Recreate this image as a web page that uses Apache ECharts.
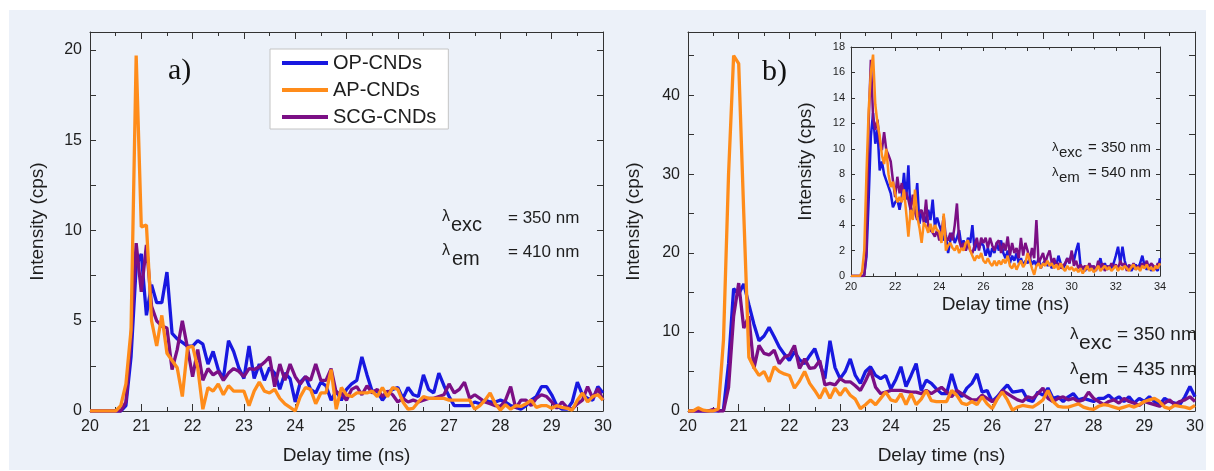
<!DOCTYPE html>
<html><head><meta charset="utf-8">
<script src="https://cdn.jsdelivr.net/npm/echarts@6/dist/echarts.min.js"></script>
<style>html,body{margin:0;padding:0;background:#fff}#c{width:1214px;height:471px}</style>
</head><body><div id="c"></div><script>
const SERIES_NAMES = ['OP-CNDs', 'AP-CNDs', 'SCG-CNDs'];
const COLORS = ['#1818e0', '#ff8c1a', '#7b0f85'];
const T_START = 20, T_STEP = 0.1;
const MAIN_X_TICKS = [20, 30, 1];
const INSET_X_TICKS = [20, 34, 2];

// Panel a) delay time 20.0 .. 30.0 ns, step 0.1 ns
const A_OP = [
 0,0,0,0,0,0,0,0.3,3.0,8.0,
 8.7,5.3,7.0,6.0,6.0,7.7,4.3,4.0,3.8,3.6,
 3.6,3.9,3.7,2.6,3.3,2.3,1.8,3.9,3.3,2.4,
 1.8,3.6,1.8,2.6,1.7,2.4,2.1,1.2,2.1,1.8,
 0.5,1.6,1.9,1.2,1.0,1.6,1.4,0.6,1.1,0.6,
 1.2,1.5,1.7,3.0,2.0,1.1,1.1,0.6,1.0,1.2,
 1.3,0.7,1.3,0.9,0.8,2.0,1.2,1.0,2.1,1.4,
 0.8,0.3,0.3,0.3,0.3,0.5,0.4,0.6,0.5,0.5,
 0.6,0.5,0.3,0.2,0.1,0.3,0.6,0.8,1.35,1.35,
 0.9,0.3,0.1,0.1,0.5,1.6,0.9,0.7,0.6,1.35,
 1.0];
const A_AP = [
 0,0,0,0,0,0,0.3,1.5,4.5,19.7,
 10.2,10.3,5.0,3.6,5.3,3.2,2.8,2.4,0.8,3.5,
 3.6,2.4,0.1,1.3,1.1,1.5,0.9,1.4,1.1,1.1,
 1.1,0.3,1.1,1.6,1.1,1.0,1.2,0.7,0.4,0.2,
 0.0,0.8,1.3,1.2,0.4,1.0,1.0,2.3,0.1,1.3,
 0.9,0.8,1.0,1.0,1.0,1.1,0.8,1.3,0.8,1.3,
 1.2,0.5,0.1,0.15,0.5,0.8,0.7,0.7,0.7,0.7,
 0.6,0.6,0.6,0.6,0.6,0.1,0.3,0.6,1.0,0.4,
 0.05,0.35,0.1,0.3,0.25,0.4,0.6,0.2,0.3,0.3,
 0.15,0.3,0.2,0.15,0.05,0.6,1.0,0.5,0.8,0.9,
 0.6];
const A_SCG = [
 0,0,0,0,0,0,0,0.5,4.0,9.3,
 6.6,9.2,5.8,5.0,4.7,4.6,2.3,3.4,5.0,3.5,
 1.9,3.4,1.7,2.35,2.0,2.2,1.7,2.1,2.35,2.2,
 1.9,2.35,2.3,2.45,2.7,3.0,1.35,2.6,1.7,2.6,
 1.9,1.5,1.9,1.7,2.6,1.7,1.7,2.35,1.0,1.0,
 0.6,1.2,1.35,0.9,1.4,1.0,1.2,0.8,1.1,0.9,
 0.5,0.7,0.5,0.6,0.5,0.6,0.7,0.7,0.8,0.9,
 1.5,1.0,1.2,1.6,0.7,0.9,0.7,0.5,0.4,0.3,
 0.25,0.6,1.35,0.15,0.6,0.6,0.3,0.7,0.9,0.8,
 0.5,0.15,0.5,0.2,0.1,0.4,0.6,1.35,0.7,1.25,
 0.6];

// Panel b) delay time 20.0 .. 30.0 ns, step 0.1 ns
const B_OP = [
 0,0,0,0,0,0,0,0.2,6.0,15.5,
 14.8,16.1,13.5,11.0,8.9,9.5,10.6,9.4,8.1,7.2,
 6.4,7.5,6.5,6.0,7.0,7.9,6.0,4.1,8.9,5.5,
 4.1,5.0,6.6,4.5,3.5,5.0,5.6,4.5,4.1,4.5,
 2.8,4.0,5.6,3.1,4.5,6.0,2.6,3.9,3.5,2.8,
 2.2,2.2,4.7,2.6,1.8,2.9,3.5,4.7,2.4,2.6,
 1.2,1.8,2.6,3.3,2.4,2.5,2.6,1.4,1.2,2.4,
 2.0,2.9,1.6,1.8,1.2,1.8,2.2,1.4,1.6,1.4,
 1.2,1.6,1.6,2.0,1.4,1.8,1.2,1.8,1.0,1.6,
 1.2,1.8,1.2,0.8,1.6,1.2,1.0,0.8,1.8,3.1,
 1.8];
const B_AP = [
 0,0,0.4,0.1,0,0,0.3,9.0,30.0,45.0,
 44.0,25.0,6.8,5.5,4.5,5.0,3.7,5.6,5.0,4.7,
 4.5,2.9,3.8,5.0,3.5,2.6,1.6,2.9,1.6,2.9,
 2.0,2.9,2.0,1.5,0.3,0.8,1.4,0.8,1.6,2.4,
 1.4,1.2,2.2,0.8,2.2,0.8,1.5,2.6,1.3,1.2,
 1.2,1.2,2.6,2.0,1.0,0.8,1.2,0.8,1.8,0.9,
 0.3,1.5,2.4,1.4,0.1,0.5,0.7,0.6,0.5,0.9,
 1.4,2.6,1.2,0.6,0.5,0.5,0.7,0.9,0.5,0.3,
 0.2,0.6,0.8,0.7,0.5,0.3,0.5,0.7,0.5,0.8,
 1.2,1.4,1.6,1.2,0.5,0.3,0.7,0.6,0.5,0.3,
 0.7];
const B_SCG = [
 0,0,0,0,0,0.2,0,0,3.0,12.0,
 16.2,10.5,12.0,5.4,8.3,7.3,7.1,7.7,6.0,6.8,
 7.1,8.3,5.4,6.6,5.4,5.5,6.4,3.3,3.5,3.3,
 4.1,3.7,3.7,3.2,2.6,3.8,5.2,3.0,2.2,2.4,
 2.6,2.6,2.6,2.5,2.4,2.4,2.2,2.6,2.2,2.6,
 3.0,2.4,1.8,2.6,2.2,1.8,1.4,1.4,2.0,1.6,
 1.2,1.6,2.6,2.2,1.8,1.4,1.2,1.8,1.6,2.2,
 2.9,1.6,1.2,1.6,1.8,1.4,1.6,1.2,1.4,2.4,
 1.6,1.2,0.8,1.2,1.4,1.0,1.6,1.2,1.0,0.7,
 1.2,1.0,0.8,0.6,1.0,1.4,0.8,1.2,1.4,1.8,
 1.2];

// Inset (lambda_em = 540 nm), delay time 20.0 .. 34.0 ns, step 0.1 ns
const IN_OP = [
 0,0,0,0,0,0,0.1,1.5,6.0,11.0,
 12.8,10.4,11.5,8.3,9.0,8.0,7.5,7.0,6.5,5.4,
 5.8,6.0,5.2,6.2,8.1,6.0,8.7,4.7,5.2,5.5,
 7.3,4.1,5.0,4.8,4.2,5.2,4.4,6.0,3.9,4.6,
 4.0,3.5,2.8,3.2,1.8,2.8,3.4,2.6,3.0,3.6,
 2.4,2.8,2.0,3.0,2.6,4.0,2.0,2.6,2.2,2.6,
 2.4,1.6,2.2,1.5,2.2,1.8,2.6,2.0,2.8,1.8,
 1.4,2.0,1.0,1.6,1.2,1.8,1.0,1.4,0.8,1.2,
 1.0,1.4,0.9,1.2,0.8,1.4,0.6,1.0,1.2,0.8,
 1.0,0.6,1.2,0.8,1.6,1.0,0.6,0.9,1.4,1.0,
 1.8,1.2,2.0,2.6,0.8,0.6,0.4,0.8,0.5,0.8,
 0.4,0.6,0.8,1.4,0.6,1.0,0.5,0.8,0.6,1.0,
 1.6,2.3,1.0,2.3,1.2,0.6,0.8,0.4,0.7,0.9,
 0.6,1.0,1.6,0.8,0.5,0.9,0.4,0.8,0.6,0.4,
 1.4];
const IN_AP = [
 0,0,0,0,0,0.3,2.0,8.0,13.0,16.0,
 17.4,13.5,12.0,11.0,9.5,8.8,10.0,8.0,7.0,7.4,
 6.5,5.8,6.2,5.8,6.8,5.0,3.1,5.2,4.4,6.8,
 4.7,3.8,2.6,4.2,3.9,3.4,4.1,3.4,4.0,3.6,
 3.5,2.6,4.9,2.0,2.4,2.6,2.2,2.0,2.4,1.8,
 2.2,2.0,2.6,2.8,2.0,1.6,1.2,1.6,1.4,1.8,
 1.2,1.0,1.4,1.0,0.8,1.2,0.8,1.2,0.9,1.3,
 1.0,1.6,0.8,0.6,1.0,0.5,0.9,1.2,0.7,1.0,
 1.8,1.2,0.6,0.1,0.8,1.0,0.6,1.0,0.8,1.2,
 0.8,1.0,0.6,0.9,0.5,1.0,0.6,0.4,0.8,0.5,
 0.7,0.4,0.6,0.3,0.6,0.2,0.5,0.8,0.4,0.6,
 0.3,0.5,0.8,0.4,0.6,0.8,0.5,0.7,0.4,0.6,
 0.8,0.4,0.7,0.5,0.8,0.6,0.4,0.7,0.9,0.5,
 0.7,0.4,0.8,0.6,0.9,0.5,0.7,0.4,0.8,0.6,
 1.0];
const IN_SCG = [
 0,0,0,0,0,0,0,2.0,12.0,17.0,
 12.5,11.5,12.3,10.5,9.9,11.3,9.9,9.5,9.0,7.5,
 6.2,7.8,6.5,7.3,6.0,6.6,6.0,5.2,6.4,5.0,
 4.4,5.0,5.2,4.2,6.0,3.9,3.6,3.4,3.1,3.6,
 2.8,3.4,4.7,3.0,2.8,3.4,2.8,4.0,5.7,2.8,
 2.2,2.6,2.0,2.6,2.0,1.8,2.4,3.0,2.0,3.0,
 2.6,3.0,2.2,3.0,2.4,2.0,2.6,2.8,1.8,2.6,
 2.0,3.1,1.6,2.6,1.8,2.2,1.4,3.0,1.6,2.6,
 2.0,1.2,2.2,1.4,4.4,1.0,1.4,1.8,1.0,1.6,
 2.0,1.0,1.4,0.8,1.0,0.6,0.8,1.0,1.4,1.0,
 2.0,0.8,1.2,0.6,0.9,0.6,0.8,0.5,1.0,0.6,
 0.8,0.4,1.2,0.6,1.0,0.4,0.8,0.6,1.0,0.7,
 0.9,0.5,1.2,0.8,1.0,0.4,0.9,0.6,1.0,0.5,
 0.8,0.6,1.0,0.7,1.2,0.6,1.0,0.8,0.5,1.0,
 0.8];

const FONT = '"Liberation Sans", Arial, sans-serif';
const AXC = '#333';
const TXC = '#1e1e1e';

function pairs(vals) {
  return vals.map((v, i) => [+(T_START + i * T_STEP).toFixed(2), v]);
}

function xAxis(grid, pos, ticks, opt) {
  return {
    gridIndex: grid, type: 'value', position: pos,
    min: ticks[0], max: ticks[1], interval: ticks[2],
    axisLine: {show: true, onZero: false, lineStyle: {color: AXC, width: 1}},
    axisTick: {show: true, inside: true, length: opt.tick, lineStyle: {color: AXC}},
    minorTick: {show: true, splitNumber: 2, length: opt.minor, lineStyle: {color: AXC}},
    splitLine: {show: false}, minorSplitLine: {show: false},
    axisLabel: {show: pos === 'bottom', fontSize: opt.fs, color: TXC, margin: opt.margin, fontFamily: FONT},
    name: pos === 'bottom' ? 'Delay time (ns)' : '',
    nameLocation: 'middle', nameGap: opt.nameGap,
    nameTextStyle: {fontSize: 19, color: TXC, fontFamily: FONT}
  };
}
function yAxis(grid, pos, min, max, interval, labelStep, opt) {
  return {
    gridIndex: grid, type: 'value', position: pos,
    min: min, max: max, interval: interval,
    axisLine: {show: true, onZero: false, lineStyle: {color: AXC, width: 1}},
    axisTick: {show: true, inside: true, length: opt.tick, lineStyle: {color: AXC}},
    splitLine: {show: false},
    axisLabel: {show: pos === 'left', fontSize: opt.fs, color: TXC, margin: opt.margin, fontFamily: FONT,
      formatter: v => (Math.abs(v / labelStep - Math.round(v / labelStep)) < 1e-6 ? String(v) : '')},
    name: pos === 'left' ? 'Intensity (cps)' : '',
    nameLocation: 'middle', nameGap: opt.nameGap,
    nameTextStyle: {fontSize: 19, color: TXC, fontFamily: FONT}
  };
}

const mainX = {tick: 7, minor: 4, fs: 16, margin: 8, nameGap: 35};
const inX = {tick: 4, minor: 2.5, fs: 11, margin: 5, nameGap: 19};

// axisIdx: 0 = panel a, 2 = panel b, 4 = inset (odd indices are mirror axes)
function line(name, color, axisIdx, arr, w) {
  return {type: 'line', name: name, xAxisIndex: axisIdx, yAxisIndex: axisIdx, data: pairs(arr),
    symbol: 'none', showSymbol: false, animation: false,
    lineStyle: {width: w, color: color}, itemStyle: {color: color}};
}

function ann(xL, xS, xM, y, sub, rest, fL, fS, fM, dS) {
  return [
    {type: 'text', z: 50, silent: true, style: {x: xL, y: y - 1, text: '\u03bb', fill: TXC,
      font: fL + 'px ' + FONT, verticalAlign: 'middle', textVerticalAlign: 'middle'}},
    {type: 'text', z: 50, silent: true, style: {x: xS, y: y + dS, text: sub, fill: TXC,
      font: fS + 'px ' + FONT, verticalAlign: 'middle', textVerticalAlign: 'middle'}},
    {type: 'text', z: 50, silent: true, style: {x: xM, y: y, text: rest, fill: TXC,
      font: fM + 'px ' + FONT, verticalAlign: 'middle', textVerticalAlign: 'middle'}}
  ];
}

const chart = echarts.init(document.getElementById('c'), null, {renderer: 'canvas'});
chart.setOption({
  animation: false,
  backgroundColor: '#ffffff',
  grid: [
    {left: 90, top: 32, width: 513, height: 379},
    {left: 688, top: 32, width: 507, height: 379},
    {left: 851, top: 47, width: 309, height: 229}
  ],
  xAxis: [
    xAxis(0, 'bottom', MAIN_X_TICKS, mainX), xAxis(0, 'top', MAIN_X_TICKS, mainX),
    xAxis(1, 'bottom', MAIN_X_TICKS, mainX), xAxis(1, 'top', MAIN_X_TICKS, mainX),
    xAxis(2, 'bottom', INSET_X_TICKS, inX), xAxis(2, 'top', INSET_X_TICKS, inX)
  ],
  yAxis: [
    yAxis(0, 'left', 0, 21, 2.5, 5, {tick: 6, fs: 16, margin: 8, nameGap: 43}),
    yAxis(0, 'right', 0, 21, 2.5, 5, {tick: 6, fs: 16, margin: 8, nameGap: 43}),
    yAxis(1, 'left', 0, 48, 5, 10, {tick: 6, fs: 16, margin: 8, nameGap: 45}),
    yAxis(1, 'right', 0, 48, 5, 10, {tick: 6, fs: 16, margin: 8, nameGap: 45}),
    yAxis(2, 'left', 0, 18, 2, 2, {tick: 4, fs: 11, margin: 6, nameGap: 36}),
    yAxis(2, 'right', 0, 18, 2, 2, {tick: 4, fs: 11, margin: 6, nameGap: 36})
  ],
  legend: {
    data: SERIES_NAMES, orient: 'vertical', left: 270, top: 49,
    icon: 'rect', itemWidth: 46, itemHeight: 4, itemGap: 7,
    padding: [4, 12, 2, 12], backgroundColor: '#ffffff',
    borderColor: '#c4c4c4', borderWidth: 1,
    selectedMode: false,
    textStyle: {fontSize: 20, lineHeight: 20, color: TXC, fontFamily: FONT}
  },
  graphic: [
    {type: 'rect', z: -10, silent: true, shape: {x: 9, y: 10, width: 1197, height: 460}, style: {fill: '#ecf1f9'}},
    {type: 'text', z: 50, silent: true, style: {x: 168, y: 71, text: 'a)', fill: '#111',
      font: '30px "Liberation Serif", "Times New Roman", serif', verticalAlign: 'middle', textVerticalAlign: 'middle'}},
    {type: 'text', z: 50, silent: true, style: {x: 762, y: 72, text: 'b)', fill: '#111',
      font: '30px "Liberation Serif", "Times New Roman", serif', verticalAlign: 'middle', textVerticalAlign: 'middle'}},
    ...ann(442, 451, 508, 218, 'exc', '= 350 nm', 16, 20, 17, 7),
    ...ann(442, 452, 508, 252, 'em', '= 410 nm', 16, 20, 17, 7),
    ...ann(1070, 1079, 1117, 335, 'exc', '= 350 nm', 17, 21, 19, 8),
    ...ann(1070, 1079, 1117, 370, 'em', '= 435 nm', 17, 21, 19, 8),
    ...ann(1052, 1059, 1088, 148, 'exc', '= 350 nm', 13, 15, 15, 5),
    ...ann(1052, 1059, 1088, 173, 'em', '= 540 nm', 13, 15, 15, 5)
  ],
  series: [
    line(SERIES_NAMES[0], COLORS[0], 0, A_OP, 3.3),
    line(SERIES_NAMES[2], COLORS[2], 0, A_SCG, 3.3),
    line(SERIES_NAMES[1], COLORS[1], 0, A_AP, 3.3),
    line(SERIES_NAMES[0], COLORS[0], 2, B_OP, 3.3),
    line(SERIES_NAMES[2], COLORS[2], 2, B_SCG, 3.3),
    line(SERIES_NAMES[1], COLORS[1], 2, B_AP, 3.3),
    line(SERIES_NAMES[0], COLORS[0], 4, IN_OP, 2.5),
    line(SERIES_NAMES[2], COLORS[2], 4, IN_SCG, 2.5),
    line(SERIES_NAMES[1], COLORS[1], 4, IN_AP, 2.5)
  ]
});
</script></body></html>
